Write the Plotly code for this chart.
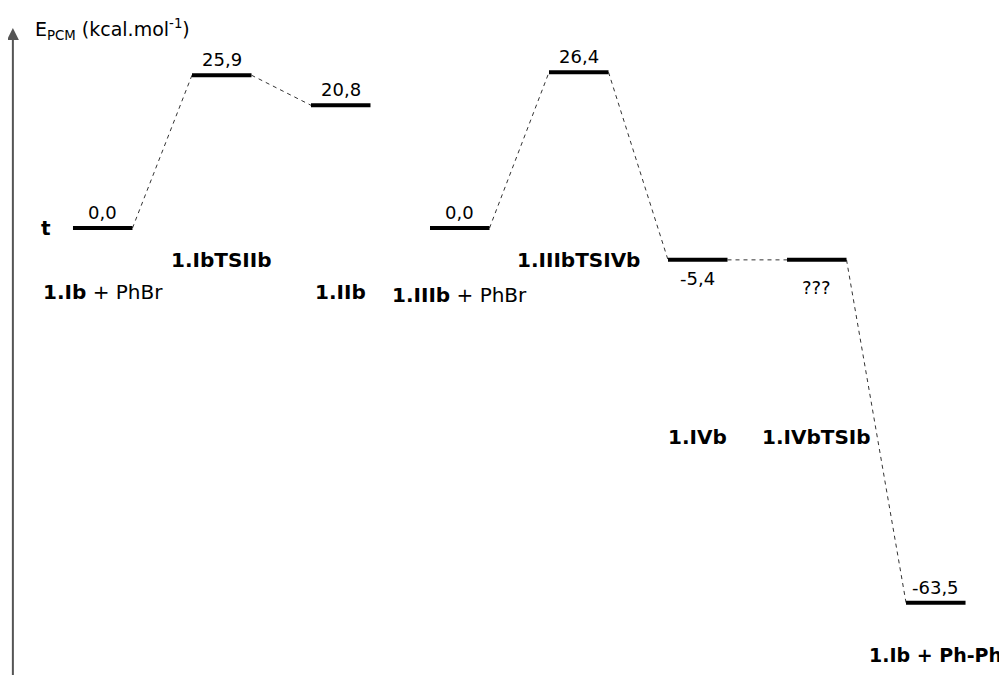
import plotly.graph_objects as go

# species along the reaction path (left to right)
species = [
    "<b>1.Ib</b> + PhBr",
    "<b>1.IbTSIIb</b>",
    "<b>1.IIb</b>",
    "<b>1.IIIb</b> + PhBr",
    "<b>1.IIIbTSIVb</b>",
    "<b>1.IVb</b>",
    "<b>1.IVbTSIb</b>",
    "<b>1.Ib + Ph-Ph</b>",
]
# energy level of each species (kcal/mol); the unknown TS is drawn at the level of 1.IVb
energy = [0.0, 25.9, 20.8, 0.0, 26.4, -5.4, -5.4, -63.5]
energy_text = ["0,0", "25,9", "20,8", "0,0", "26,4", "-5,4", "???", "-63,5"]
# pairs of species joined by a dashed line
links = [(0, 1), (1, 2), (3, 4), (4, 5), (5, 6), (6, 7)]

# layout only: where each name sits (y, in energy units), its size, value label offset (px)
name_row = [-10.9, -5.4, -10.9, -11.4, -5.4, -35.4, -35.4, -72.4]
name_size = [20, 20, 20, 20, 20, 20, 20, 19]
value_shift = [3, 3, 3, 3, 3, -6, -15, 3]

FONT = "DejaVu Sans"
fig = go.Figure()

# dashed connectors
for a, b in links:
    fig.add_trace(go.Scatter(
        x=[2 * a + 1, 2 * b], y=[energy[a], energy[b]],
        mode="lines", line=dict(color="#333333", width=1, dash="4px,4px"),
        hoverinfo="skip", showlegend=False,
    ))

# energy levels
for i, e in enumerate(energy):
    fig.add_trace(go.Scatter(
        x=[2 * i, 2 * i + 1], y=[e, e],
        mode="lines", line=dict(color="black", width=4),
        name=species[i], showlegend=False,
    ))

annotations = []
for i, e in enumerate(energy):
    above = value_shift[i] > 0
    annotations.append(dict(
        x=2 * i + 0.5, y=e, xref="x", yref="y", text=energy_text[i],
        showarrow=False, yanchor="bottom" if above else "top",
        yshift=value_shift[i], font=dict(family=FONT, size=18, color="black"),
    ))
    annotations.append(dict(
        x=2 * i + 0.5, y=name_row[i], xref="x", yref="y", text=species[i],
        showarrow=False, font=dict(family=FONT, size=name_size[i], color="black"),
    ))

# "t" label left of the first level
annotations.append(dict(
    x=0, y=energy[0], xref="x", yref="y", text="<b>t</b>", showarrow=False,
    xanchor="right", xshift=-20, font=dict(family=FONT, size=20, color="black"),
))

# vertical energy axis with arrow
annotations.append(dict(
    x=-1.01, y=33.9, ax=-1.01, ay=-76, xref="x", yref="y", axref="x", ayref="y",
    text="", showarrow=True, arrowhead=2, arrowsize=1.2, arrowwidth=2,
    arrowcolor="#555555",
))
annotations.append(dict(
    x=0.025, y=0.9685, xref="paper", yref="paper",
    text="E<sub>PCM</sub> (kcal.mol<sup>-1</sup>)", showarrow=False,
    xanchor="left", yanchor="middle", font=dict(family=FONT, size=19, color="black"),
))

fig.update_layout(
    width=999, height=667,
    margin=dict(l=0, r=0, t=0, b=0),
    plot_bgcolor="white", paper_bgcolor="white",
    annotations=annotations,
)
fig.update_xaxes(range=[-1.092, 15.697], visible=False)
fig.update_yaxes(range=[-75.76, 37.29], visible=False)

fig.write_html("out.html")
